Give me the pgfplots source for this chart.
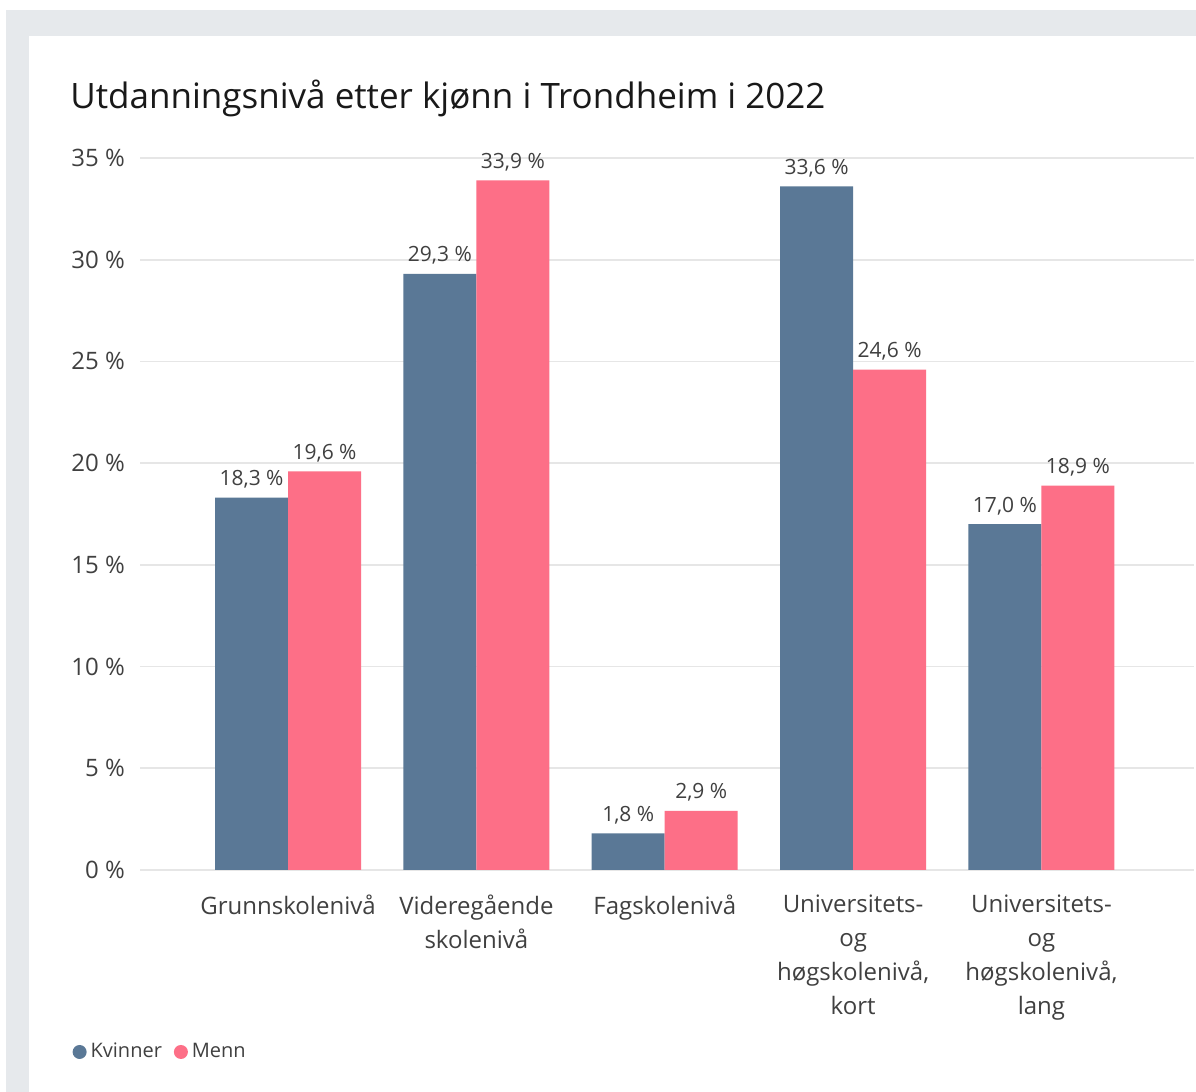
\documentclass[border=0pt]{standalone}
\usepackage{pgfplots}
\pgfplotsset{compat=1.18}
\usepackage{fontspec}
\setmainfont{Open Sans}
\definecolor{kv}{HTML}{5A7896}
\definecolor{me}{HTML}{FD6F87}
\definecolor{frame}{HTML}{E6E9EC}
\definecolor{gridc}{HTML}{E6E6E6}
\definecolor{txt}{HTML}{404040}
\begin{document}
\begin{tikzpicture}
\fill[white] (0pt,0pt) rectangle (598pt,546pt);
\fill[frame] (3pt,0pt) rectangle (598pt,541pt);
\fill[white] (14.5pt,0pt) rectangle (598pt,528pt);
\node[anchor=west,inner sep=0pt,font=\fontsize{17.5}{20}\selectfont,text=black!90] at (35pt,497pt) {Utdanningsnivå etter kjønn i Trondheim i 2022};
\begin{axis}[
  at={(70pt,111pt)}, anchor=south west,
  scale only axis, width=527pt, height=356pt,
  ybar=0pt, bar width=36.5pt,
  xmin=-0.786, xmax=4.81, ymin=0, ymax=35,
  axis line style={draw=none},
  ymajorgrids, grid style={gridc, line width=0.8pt},
  ytick={0,5,...,35},
  xtick={0,1,2,3,4},
  xticklabels={Grunnskolenivå,{Videregående\\skolenivå},Fagskolenivå,{Universitets-\\og\\høgskolenivå,\\kort},{Universitets-\\og\\høgskolenivå,\\lang}},
  xticklabel style={align=center, anchor=north, yshift=-9pt, font=\fontsize{12}{17}\selectfont, text=txt},
  yticklabel={\pgfmathprintnumber{\tick}~\%},
  yticklabel style={anchor=east, xshift=-4pt, font=\fontsize{12}{14}\selectfont, text=txt},
  /pgf/number format/assume math mode=true,
  major tick length=0pt,
  clip=false,
  nodes near coords={\pgfmathprintnumber[fixed,fixed zerofill,precision=1,use comma,assume math mode=true]{\pgfplotspointmeta}~\%},
  every node near coord/.append style={font=\fontsize{10.5}{12}\selectfont, text=txt, inner sep=2pt, yshift=2.5pt},
  legend columns=2,
  legend style={draw=none, fill=none, at={(-0.07,-0.2556)}, anchor=west, font=\fontsize{10}{12}\selectfont, text=txt, /tikz/every even column/.append style={column sep=4pt}},
  legend image code/.code={\fill[#1] (0.25em,0) circle (3.5pt);},
]
\addplot[fill=kv, draw=none] coordinates {(0,18.3) (1,29.3) (2,1.8) (3,33.6) (4,17.0)};
\addplot[fill=me, draw=none] coordinates {(0,19.6) (1,33.9) (2,2.9) (3,24.6) (4,18.9)};
\legend{Kvinner,Menn}
\end{axis}
\end{tikzpicture}
\end{document}
